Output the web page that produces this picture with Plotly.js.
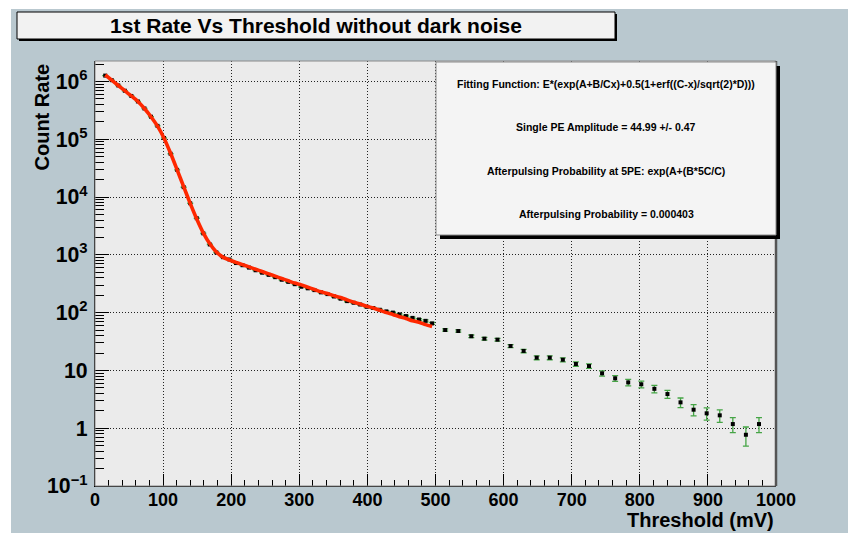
<!DOCTYPE html>
<html><head><meta charset="utf-8">
<script src="https://cdn.plot.ly/plotly-3.0.1.min.js"></script>
<style>html,body{margin:0;padding:0;background:#fff;} #chart{width:848px;height:533px;}</style>
</head><body><div id="chart"></div>
<script>
// Fine-step scan (mV)
const thresholdFine = [15, 24.6, 34.2, 43.8, 53.4, 63, 72.6, 82.2, 91.8, 101.4, 111, 120.6, 130.2, 139.8, 149.4, 159, 168.6, 178.2, 187.8, 197.4, 207, 216.6, 226.2, 235.8, 245.4, 255, 264.6, 274.2, 283.8, 293.4, 303, 312.6, 322.2, 331.8, 341.4, 351, 360.6, 370.2, 379.8, 389.4, 399, 408.6, 418.2, 427.8, 437.4, 447, 456.6, 466.2, 475.8, 485.4, 495];
const rateFine = [1.26e6, 1.05e6, 8.5e5, 6.9e5, 5.6e5, 4.5e5, 3.4e5, 2.45e5, 1.7e5, 1.05e5, 5.6e4, 2.95e4, 1.48e4, 7800, 4300, 2350, 1510, 1100, 910, 830, 720, 660, 600, 540, 490, 450, 410, 370, 340, 310, 280, 263, 245, 224, 209, 190, 174, 158, 148, 138, 126, 120, 112, 105, 100, 93, 87, 81, 76, 72, 65];
const errFine = [350, 320, 290, 260, 235, 210, 180, 155, 130, 100, 75, 55, 38, 28, 21, 15, 12, 10, 9.5, 9, 8.5, 8, 7.7, 7.3, 7, 6.7, 6.4, 6.1, 5.8, 5.6, 5.3, 5.1, 5, 4.7, 4.6, 4.4, 4.2, 4, 3.8, 3.7, 3.5, 3.5, 3.3, 3.2, 3.2, 3, 2.9, 2.8, 2.7, 2.7, 2.6];
// Coarse-step scan (mV)
const thresholdCoarse = [514.2, 533.4, 552.6, 571.8, 591, 610.2, 629.4, 648.6, 667.8, 687, 706.2, 725.4, 744.6, 763.8, 783, 802.2, 821.4, 840.6, 859.8, 879, 898.2, 917.4, 936.6, 955.8, 975];
const rateCoarse = [50, 48, 39, 35.4, 34, 26.4, 21.7, 16.6, 16.6, 15.3, 12.9, 11.9, 8.9, 7.3, 6.2, 5.75, 4.8, 3.9, 2.8, 2.09, 1.81, 1.67, 1.18, 0.77, 1.18];
const errCoarse = [2.2, 2.2, 2.0, 1.9, 1.8, 1.6, 1.5, 1.3, 1.3, 1.2, 1.1, 1.1, 0.95, 0.85, 0.8, 0.75, 0.7, 0.62, 0.53, 0.46, 0.43, 0.41, 0.34, 0.28, 0.34];
// Fit curve values read at the fine thresholds
const fitRate = [1.29e6, 1.05e6, 8.5e5, 6.9e5, 5.6e5, 4.5e5, 3.4e5, 2.45e5, 1.68e5, 1.04e5, 5.7e4, 2.95e4, 1.51e4, 7760, 4170, 2400, 1550, 1120, 912, 813, 741, 676, 617, 562, 513, 468, 427, 389, 355, 324, 302, 275, 251, 229, 214, 195, 182, 166, 151, 141, 129, 120, 110, 100, 93, 85, 79, 72, 68, 62, 57.5];

const statLines = [
  "Fitting Function: E*(exp(A+B/Cx)+0.5(1+erf((C-x)/sqrt(2)*D)))",
  "Single PE Amplitude = 44.99 +/- 0.47",
  "Afterpulsing Probability at 5PE: exp(A+(B*5C/C)",
  "Afterpulsing Probability = 0.000403"
];

const W = 848, H = 533, L = 95, R = 776, T = 61, B = 486;
const X = px => (px - L) / (R - L);
const Y = py => (B - py) / (B - T);
const FONT = "Liberation Sans, Arial, Helvetica, sans-serif";

function rect(x0, y0, x1, y1, fill, line, lw, layer) {
  return {type: 'rect', xref: 'paper', yref: 'paper', x0: X(x0), x1: X(x1), y0: Y(y1), y1: Y(y0),
    fillcolor: fill, line: {color: line || fill, width: lw || 0}, layer: layer || 'above'};
}
function seg(x0, y0, x1, y1, color, lw) {
  return {type: 'line', xref: 'paper', yref: 'paper', x0: X(x0), x1: X(x1), y0: Y(y0), y1: Y(y1),
    line: {color: color, width: lw}, layer: 'above'};
}

const markerStyle = {symbol: 'square', size: 4, color: '#000'};
const errStyle = {type: 'data', visible: true, color: 'rgb(70,165,70)', thickness: 1.3, width: 3};

const traces = [
  {x: thresholdFine, y: rateFine, type: 'scatter', mode: 'markers', marker: markerStyle,
   error_y: Object.assign({array: errFine}, errStyle)},
  {x: thresholdCoarse, y: rateCoarse, type: 'scatter', mode: 'markers', marker: markerStyle,
   error_y: Object.assign({array: errCoarse}, errStyle)},
  {x: thresholdFine, y: fitRate, type: 'scatter', mode: 'lines',
   line: {color: 'rgb(255,40,0)', width: 3.6, shape: 'spline', smoothing: 0.6}, hoverinfo: 'skip'}
];

const statY = [84.3, 127.3, 171, 214.3];

const annotations = statLines.map((t, i) => ({
  text: t, xref: 'paper', yref: 'paper', x: X(606), y: Y(statY[i]), showarrow: false,
  xanchor: 'center', yanchor: 'middle', font: {family: FONT, size: 10.5, weight: 'bold', color: '#000'}
}));
annotations.push({text: 'Count Rate', xref: 'paper', yref: 'paper', x: X(42), y: Y(62), textangle: -90,
  showarrow: false, xanchor: 'center', yanchor: 'top', font: {family: FONT, size: 20, weight: 'bold', color: '#000'}});
annotations.push({text: 'Threshold (mV)', xref: 'paper', yref: 'paper', x: X(776), y: Y(520),
  showarrow: false, xanchor: 'right', yanchor: 'middle', font: {family: FONT, size: 20, weight: 'bold', color: '#000'}});

const shapes = [
  rect(0, 0, 11, H, '#ffffff', null, 0, 'below'),
  rect(0, 0, W, 9, '#ffffff', null, 0, 'below'),
  rect(19, 14, 617, 41, '#000000'),
  rect(17, 12, 615, 39, '#f2f2f2', '#000000', 1),
  {type: 'rect', xref: 'paper', yref: 'paper', x0: 0, x1: 1, y0: 0, y1: 1, line: {color: '#8a8a8a', width: 1}, layer: 'above'},
  seg(R, T, R, B, '#555555', 2.5),
  rect(440, 66, 780, 239, '#000000'),
  rect(436, 62, 776, 235, '#f4f4f4', '#8a8a8a', 1)
];

const layout = {
  width: W, height: H,
  margin: {l: L, r: W - R, t: T, b: H - B, pad: 0},
  paper_bgcolor: '#b9c8cf', plot_bgcolor: '#ebebeb',
  showlegend: false, hovermode: false,
  title: {text: '1st Rate Vs Threshold without dark noise', xref: 'container', yref: 'container',
    x: 316 / W, y: 1 - 26 / H, xanchor: 'center', yanchor: 'middle',
    font: {family: FONT, size: 21, weight: 'bold', color: '#000'}},
  xaxis: {range: [0, 1000], tick0: 0, dtick: 100, ticks: 'inside', ticklen: 12, tickwidth: 1, tickcolor: '#000',
    showline: true, linecolor: '#000', linewidth: 1, zeroline: false, ticklabelstandoff: -3,
    showgrid: true, gridcolor: '#222', griddash: '1px,2px', gridwidth: 1,
    minor: {dtick: 20, ticks: 'inside', ticklen: 6, tickcolor: '#000', tickwidth: 1, showgrid: false},
    tickfont: {family: FONT, size: 18, weight: 'bold', color: '#000'}},
  yaxis: {type: 'log', range: [-1, 6.353], tick0: 0, dtick: 1, exponentformat: 'power',
    ticks: 'inside', ticklen: 14, tickwidth: 1, tickcolor: '#000', ticklabelstandoff: 3,
    showline: true, linecolor: '#000', linewidth: 1, zeroline: false,
    showgrid: true, gridcolor: '#222', griddash: '1px,2px', gridwidth: 1,
    minor: {dtick: 'D1', ticks: 'inside', ticklen: 9, tickcolor: '#000', tickwidth: 1, showgrid: false},
    tickfont: {family: FONT, size: 17, weight: 'bold', color: '#000'}},
  shapes: shapes,
  annotations: annotations
};

Plotly.newPlot('chart', traces, layout, {displayModeBar: false, staticPlot: true});
</script>
</body></html>
